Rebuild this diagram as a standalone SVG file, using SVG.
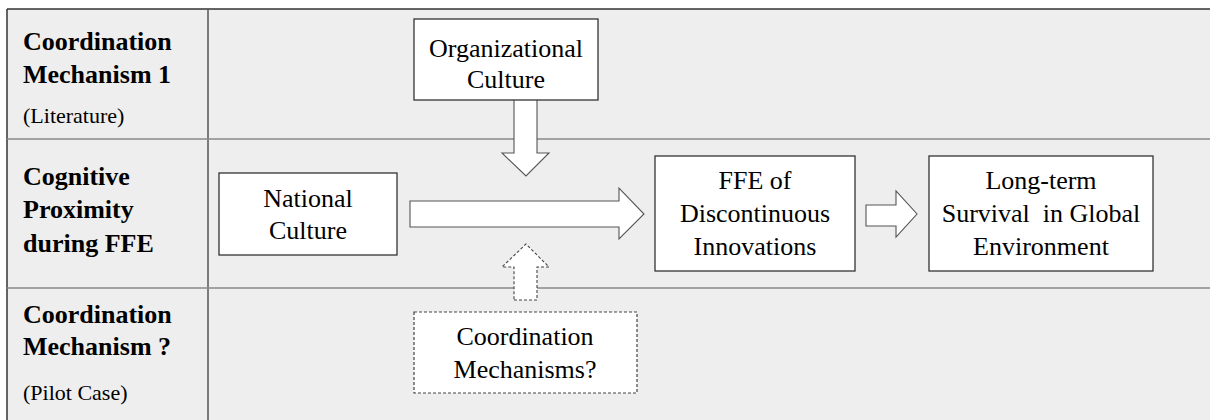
<svg xmlns="http://www.w3.org/2000/svg" width="1210" height="420" viewBox="0 0 1210 420">
<style>
text{font-family:'Liberation Serif','Tinos','Times New Roman','Nimbus Roman','DejaVu Serif',serif}
.lab{font-size:26px;font-weight:bold;fill:#000}
.sub{font-size:22px;fill:#000}
.t{font-size:26px;fill:#000;text-anchor:middle}
.box{fill:#fff;stroke:#333;stroke-width:1.3}
.dbox{fill:#fff;stroke:#444;stroke-width:1.2;stroke-dasharray:3 2}
.arr{fill:#fff;stroke:#555;stroke-width:1.1}
.darr{fill:#fff;stroke:#444;stroke-width:1.1;stroke-dasharray:3 2}
.grid{stroke:#888;stroke-width:1.5;fill:none}
</style>
<rect x="0" y="0" width="1210" height="420" fill="#fff"/>
<g id="table">
<rect x="7" y="9" width="1210" height="420" fill="#eeeeee"/>
<line x1="7" y1="9" x2="1210" y2="9" stroke="#333" stroke-width="1.5"/>
<line x1="7" y1="9" x2="7" y2="420" stroke="#333" stroke-width="1.5"/>
<line x1="208" y1="9" x2="208" y2="420" stroke="#555" stroke-width="1.5"/>
<line class="grid" x1="7" y1="139" x2="1210" y2="139"/>
<line class="grid" x1="7" y1="288" x2="1210" y2="288"/>
</g>
<g id="row1-label" font-family="Liberation Serif, serif">
<text class="lab" x="23" y="50">Coordination</text>
<text class="lab" x="23" y="83">Mechanism 1</text>
<text class="sub" x="23" y="123">(Literature)</text>
</g>
<g id="row2-label">
<text class="lab" x="23" y="185">Cognitive</text>
<text class="lab" x="23" y="218">Proximity</text>
<text class="lab" x="23" y="252">during FFE</text>
</g>
<g id="row3-label">
<text class="lab" x="23" y="323">Coordination</text>
<text class="lab" x="23" y="355">Mechanism ?</text>
<text class="sub" x="23" y="400">(Pilot Case)</text>
</g>
<g id="connectors">
<polygon class="arr" points="514,99 537,99 537,153 549,153 526,176 502,153 514,153"/>
<polygon class="arr" points="410,201 619,201 619,188 644,214 619,239 619,227 410,227"/>
<polygon class="arr" points="866,205 896,205 896,191 917,214 896,237 896,226 866,226"/>
<polygon class="darr" points="514,300 537,300 537,267 549,267 526,244 502,267 514,267"/>
</g>
<g id="org-culture">
<rect class="box" x="414" y="19" width="184" height="81"/>
<text class="t" x="506" y="57">Organizational</text>
<text class="t" x="506" y="88">Culture</text>
</g>
<g id="national-culture">
<rect class="box" x="219" y="173" width="178" height="82"/>
<text class="t" x="308" y="207">National</text>
<text class="t" x="308" y="239">Culture</text>
</g>
<g id="ffe">
<rect class="box" x="655" y="156" width="200" height="115"/>
<text class="t" x="755" y="189">FFE of</text>
<text class="t" x="755" y="222">Discontinuous</text>
<text class="t" x="755" y="255">Innovations</text>
</g>
<g id="survival">
<rect class="box" x="929" y="156" width="224" height="115"/>
<text class="t" x="1041" y="189">Long-term</text>
<text class="t" x="1041" y="222" xml:space="preserve">Survival  in Global</text>
<text class="t" x="1041" y="255">Environment</text>
</g>
<g id="coord-mech">
<rect class="dbox" x="414" y="312" width="223" height="81"/>
<text class="t" x="525" y="345">Coordination</text>
<text class="t" x="525" y="378">Mechanisms?</text>
</g>
</svg>
